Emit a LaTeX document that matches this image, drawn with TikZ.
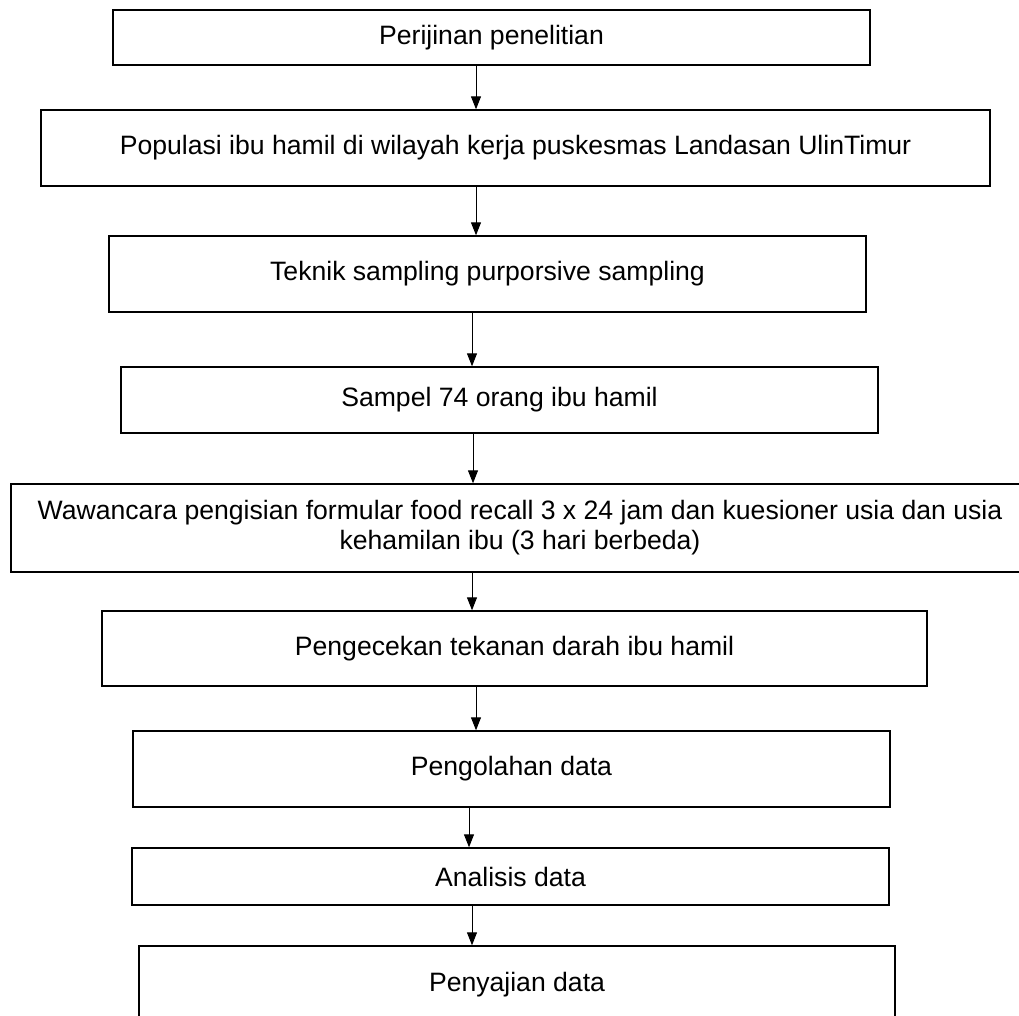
\documentclass[tikz,border=0pt]{standalone}
\usepackage{fontspec}
\setmainfont{Liberation Sans}
\usetikzlibrary{arrows.meta}

\tikzset{
  box/.style={draw,line width=1.4pt,inner sep=0pt,align=center,
    font=\fontsize{26.6}{30}\selectfont},
  arr/.style={line width=1pt,-{Triangle[length=13pt,width=10pt]}}
}

\begin{document}
\begin{tikzpicture}[x=1pt,y=-1pt]

\clip (0,0) rectangle (1019,1015);

\node[box,minimum width=757pt,minimum height=55pt] (B1) at (491.5,37.5) {Perijinan penelitian};
\node[box,minimum width=949pt,minimum height=76pt] (B2) at (515.5,148) {Populasi ibu hamil di wilayah kerja puskesmas Landasan UlinTimur};
\node[box,minimum width=757pt,minimum height=76pt] (B3) at (487.5,274) {Teknik sampling purporsive sampling};
\node[box,minimum width=757pt,minimum height=66pt] (B4) at (499.5,400) {Sampel 74 orang ibu hamil};
\node[box,minimum width=1018pt,minimum height=88pt] (B5) at (520,528) {Wawancara pengisian formular food recall 3 x 24 jam dan kuesioner usia dan usia\\ kehamilan ibu (3 hari berbeda)};
\node[box,minimum width=825pt,minimum height=75pt] (B6) at (514.5,648.5) {Pengecekan tekanan darah ibu hamil};
\node[box,minimum width=757pt,minimum height=76pt] (B7) at (511.5,769) {Pengolahan data};
\node[box,minimum width=757pt,minimum height=57pt] (B8) at (510.5,876.5) {Analisis data};
\node[box,minimum width=756pt,minimum height=78pt] (B9) at (517,985) {Penyajian data};

% arrow columns
\coordinate (a1) at (476,0);
\coordinate (a2) at (476,0);
\coordinate (a3) at (472,0);
\coordinate (a4) at (473,0);
\coordinate (a5) at (472,0);
\coordinate (a6) at (476,0);
\coordinate (a7) at (469,0);
\coordinate (a8) at (472,0);

\draw[arr] (B1.south -| a1) -- (B2.north -| a1);
\draw[arr] (B2.south -| a2) -- (B3.north -| a2);
\draw[arr] (B3.south -| a3) -- (B4.north -| a3);
\draw[arr] (B4.south -| a4) -- (B5.north -| a4);
\draw[arr] (B5.south -| a5) -- (B6.north -| a5);
\draw[arr] (B6.south -| a6) -- (B7.north -| a6);
\draw[arr] (B7.south -| a7) -- (B8.north -| a7);
\draw[arr] (B8.south -| a8) -- (B9.north -| a8);

\end{tikzpicture}
\end{document}
